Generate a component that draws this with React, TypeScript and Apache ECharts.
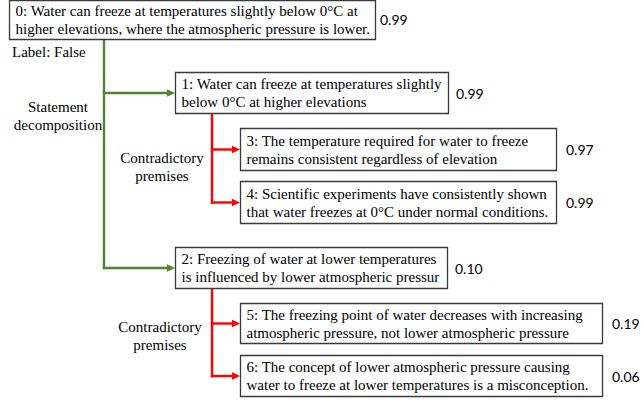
import React, { useEffect, useRef } from "react";
import * as echarts from "echarts";

// ---- data ----
const nodeTexts: string[][] = [
  ["0: Water can freeze at temperatures slightly below 0°C at", "higher elevations, where the atmospheric pressure is lower."],
  ["1: Water can freeze at temperatures slightly", "below 0°C at higher elevations"],
  ["2: Freezing of water at lower temperatures", "is influenced by lower atmospheric pressur"],
  ["3: The temperature required for water to freeze", "remains consistent regardless of elevation"],
  ["4: Scientific experiments have consistently shown", "that water freezes at 0°C under normal conditions."],
  ["5: The freezing point of water decreases with increasing", "atmospheric pressure, not lower atmospheric pressure"],
  ["6: The concept of lower atmospheric pressure causing", "water to freeze at lower temperatures is a misconception."],
];
const nodeScores: number[] = [0.99, 0.99, 0.1, 0.97, 0.99, 0.19, 0.06];
const nodeParents: number[] = [-1, 0, 0, 1, 1, 2, 2];
const branchParents: number[] = [0, 1, 2];
const branchLabels: string[][] = [
  ["Statement", "decomposition"],
  ["Contradictory", "premises"],
  ["Contradictory", "premises"],
];
const rootLabel = "Label: False";

// ---- layout (positions / sizes) ----
const boxes = [
  { x: 9, y: 0, w: 366, h: 39 },
  { x: 175, y: 72, w: 273, h: 41 },
  { x: 175, y: 247, w: 272, h: 41 },
  { x: 240, y: 128, w: 316, h: 42 },
  { x: 240, y: 181, w: 316, h: 42 },
  { x: 240, y: 303, w: 362, h: 40 },
  { x: 240, y: 355, w: 362, h: 41 },
];
const scoreGap = [5, 8, 8, 10, 10, 10, 10];
const branchX = [104, 212, 212];
const branchColors = ["#548235", "#ff0000", "#ff0000"];
const branchLabelPos = [
  { x: 58, y: 107 },
  { x: 162, y: 158 },
  { x: 160, y: 327 },
];

const SERIF = "Liberation Serif";
const SANS = "Lato";

function txt(text: string, x: number, y: number, family: string, size: number, align: string) {
  return {
    type: "text",
    z: 11,
    style: {
      text,
      x,
      y,
      fontFamily: family,
      fontSize: size,
      fill: "#000",
      textAlign: align,
      textVerticalAlign: "middle",
    },
  };
}

function buildGraphics() {
  const els: any[] = [];
  boxes.forEach((b, i) => {
    els.push({
      type: "rect",
      shape: { x: b.x + 0.5, y: b.y + 0.5, width: b.w, height: b.h },
      style: { fill: "#fff", stroke: "#3a3a3a", lineWidth: 1.3 },
      z: 10,
    });
    const cy = b.y + b.h / 2 + 0.5;
    nodeTexts[i].forEach((line, k) => {
      els.push(txt(line, b.x + 6.5, cy + (k === 0 ? -9 : 9), SERIF, 15, "left"));
    });
    els.push(txt(nodeScores[i].toFixed(2), b.x + b.w + scoreGap[i], i === 0 ? 19 : cy, SANS, 14, "left"));
  });

  branchParents.forEach((p, bi) => {
    const color = branchColors[bi];
    const pb = boxes[p];
    const x = branchX[bi];
    const children = nodeParents
      .map((par, idx) => (par === p ? idx : -1))
      .filter((v) => v >= 0);
    const lastChild = boxes[children[children.length - 1]];
    const lastY = lastChild.y + lastChild.h / 2 + 0.5;
    els.push({
      type: "line",
      z: 5,
      shape: { x1: x, y1: pb.y + pb.h + 1, x2: x, y2: lastY + 1.2 },
      style: { stroke: color, lineWidth: 2.4 },
    });
    children.forEach((c) => {
      const cb = boxes[c];
      const y = cb.y + cb.h / 2 + 0.5;
      const tip = cb.x;
      els.push({
        type: "line",
        z: 5,
        shape: { x1: x - 1.2, y1: y, x2: tip - 6, y2: y },
        style: { stroke: color, lineWidth: 2.4 },
      });
      els.push({
        type: "polygon",
        z: 6,
        shape: { points: [[tip - 8, y - 3.8], [tip, y], [tip - 8, y + 3.8]] },
        style: { fill: color },
      });
    });
    const lp = branchLabelPos[bi];
    branchLabels[bi].forEach((line, k) => {
      els.push(txt(line, lp.x, lp.y + k * 18, SERIF, 15, "center"));
    });
  });

  els.push(txt(rootLabel, 12, 52, SERIF, 15, "left"));
  return els;
}

export default function App() {
  const ref = useRef<HTMLDivElement>(null);
  useEffect(() => {
    if (!ref.current) return;
    const chart = echarts.init(ref.current, undefined, { renderer: "svg" });
    chart.setOption({
      animation: false,
      backgroundColor: "#ffffff",
      graphic: { elements: buildGraphics() },
    });
    return () => chart.dispose();
  }, []);
  return (
    <div
      ref={ref}
      style={{ position: "fixed", left: 0, top: 0, width: 644, height: 402, background: "#fff" }}
    />
  );
}
